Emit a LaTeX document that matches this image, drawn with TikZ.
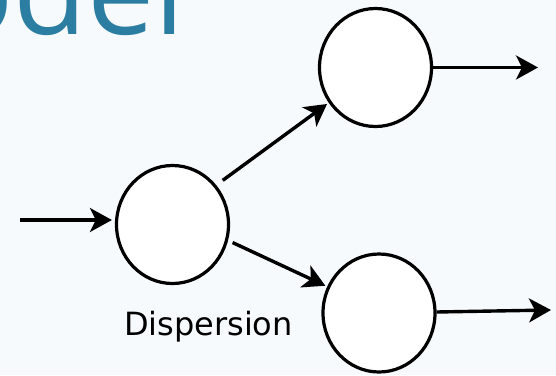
\documentclass[tikz,border=0pt]{standalone}
\usepackage{fontspec}
\setmainfont{DejaVu Sans}
\newfontfamily\titlefont{Open Sans}
\usetikzlibrary{arrows.meta,shapes.geometric}
\definecolor{bgcol}{RGB}{246,250,253}
\definecolor{titlecol}{RGB}{43,126,161}
\tikzset{
  cell/.style={ellipse, draw=black, fill=white, line width=3.2pt,
    minimum width=112pt, minimum height=118pt, inner sep=0pt},
  flow/.style={line width=3.4pt,
    -{Stealth[length=22pt,width=24pt,inset=6pt]}},
  caption/.style={inner sep=0pt, font=\fontsize{32}{38}\selectfont},
}
\begin{document}
\begin{tikzpicture}[x=1pt,y=-1pt]
  % canvas
  \fill[bgcol] (0,0) rectangle (556,375);
  \useasboundingbox (0,0) rectangle (556,375);

  % heading, running off the top edge
  \node[anchor=base east, inner sep=0pt, text=titlecol,
        font=\titlefont\fontsize{120}{140}\selectfont] (title) at (185,34) {Model};

  % cells
  \node[cell] (src) at (172.5,224.5) {};
  \node[cell] (up)  at (375.5,67.5) {};
  \node[cell] (low) at (379,313) {};

  % free ends of the outer arrows
  \coordinate (inp)  at (20,220);
  \coordinate (outa) at (538,67.5);
  \coordinate (outb) at (551,310);

  % connectors
  \draw[flow, shorten >=3pt] (inp) -- (src.west |- inp);
  \draw[flow, shorten <=8pt, shorten >=2pt] (src.42) -- (up.217.5);
  \draw[flow, shorten <=5pt, shorten >=2pt] (src.344.5) -- (low.153.9);
  \draw[flow] (up) -- (outa);
  \draw[flow] (low) -- (outb);

  % label under the source cell
  \node[caption, anchor=base] (lbl) at (208.4,335.7) {Dispersion};
\end{tikzpicture}
\end{document}
